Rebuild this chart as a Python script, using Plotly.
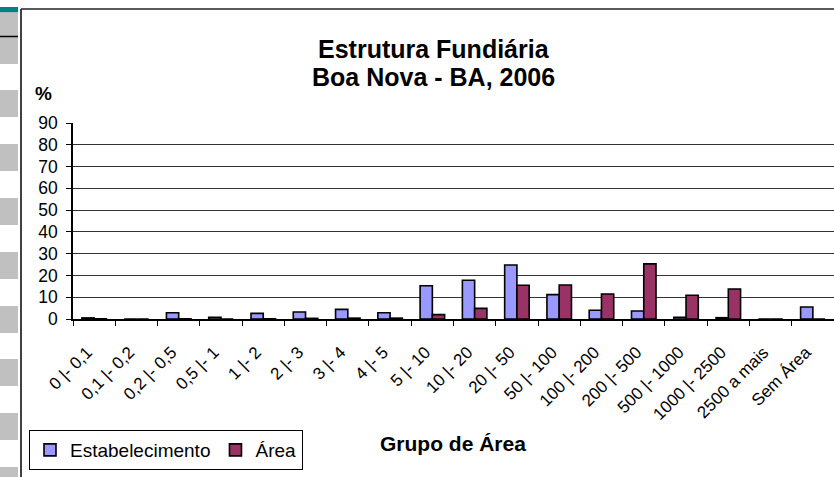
import plotly.graph_objects as go

categories = ["0 |- 0,1", "0,1 |- 0,2", "0,2 |- 0,5", "0,5 |- 1", "1 |- 2", "2 |- 3",
              "3 |- 4", "4 |- 5", "5 |- 10", "10 |- 20", "20 |- 50", "50 |- 100",
              "100 |- 200", "200 |- 500", "500 |- 1000", "1000 |- 2500", "2500 a mais", "Sem Área"]
estabelecimento = [0.5, 0.0, 2.9, 0.8, 2.6, 3.2, 4.4, 2.9, 15.3, 17.8, 24.8, 11.2,
                   4.0, 3.7, 0.8, 0.6, 0.0, 5.5]
area = [0.1, 0.0, 0.1, 0.0, 0.1, 0.3, 0.4, 0.4, 2.0, 4.9, 15.5, 15.6,
        11.5, 25.3, 10.9, 13.8, 0.0, 0.0]
y_ticks = [0, 10, 20, 30, 40, 50, 60, 70, 80, 90]

W, H = 834, 477
ML, MR, MT, MB = 73, 0, 123, 158
PW, PH = W - ML - MR, H - MT - MB
FONT = "Liberation Sans, Arial, sans-serif"


def px(x):
    return (x - ML) / PW


def py(y):
    return (H - MB - y) / PH


fig = go.Figure()
fig.add_trace(go.Bar(x=categories, y=estabelecimento, name="Estabelecimento",
                     marker=dict(color="#9999FF", line=dict(color="black", width=1.6))))
fig.add_trace(go.Bar(x=categories, y=area, name="Área",
                     marker=dict(color="#993366", line=dict(color="black", width=1.6))))

shapes = []
# frame
shapes.append(dict(type="line", xref="paper", yref="paper", x0=px(21), x1=px(21), y0=py(9), y1=py(H),
                   line=dict(color="black", width=1.5)))
shapes.append(dict(type="line", xref="paper", yref="paper", x0=px(21), x1=px(W), y0=py(9), y1=py(9),
                   line=dict(color="#222", width=1.5)))
# left strip decoration
shapes.append(dict(type="rect", xref="paper", yref="paper", x0=px(0), x1=px(18), y0=py(7), y1=py(12.5),
                   fillcolor="#008080", line=dict(width=0), layer="below"))
shapes.append(dict(type="rect", xref="paper", yref="paper", x0=px(0), x1=px(18), y0=py(12.5), y1=py(36),
                   fillcolor="#C0C0C0", line=dict(width=0), layer="below"))
shapes.append(dict(type="line", xref="paper", yref="paper", x0=px(0), x1=px(18), y0=py(36.5), y1=py(36.5),
                   line=dict(color="black", width=1.5)))
for top in [37, 90, 144, 198, 252, 306, 359, 413, 467]:
    shapes.append(dict(type="rect", xref="paper", yref="paper", x0=px(0), x1=px(18),
                       y0=py(top), y1=py(min(top + 27, H)),
                       fillcolor="#C0C0C0", line=dict(width=0), layer="below"))

annotations = [
    dict(text="<b>Estrutura Fundiária</b>", x=px(433.5), y=py(49), xref="paper", yref="paper",
         showarrow=False, xanchor="center", yanchor="middle",
         font=dict(family=FONT, size=25, color="black")),
    dict(text="<b>Boa Nova - BA, 2006</b>", x=px(433.5), y=py(77.5), xref="paper", yref="paper",
         showarrow=False, xanchor="center", yanchor="middle",
         font=dict(family=FONT, size=25, color="black")),
    dict(text="<b>%</b>", x=px(43), y=py(94), xref="paper", yref="paper",
         showarrow=False, xanchor="center", yanchor="middle",
         font=dict(family=FONT, size=19, color="black")),
    dict(text="<b>Grupo de Área</b>", x=px(453), y=py(443), xref="paper", yref="paper",
         showarrow=False, xanchor="center", yanchor="middle",
         font=dict(family=FONT, size=21, color="black")),
]

fig.update_layout(
    width=W, height=H,
    margin=dict(l=ML, r=MR, t=MT, b=MB, autoexpand=False),
    paper_bgcolor="white", plot_bgcolor="white",
    barmode="group", bargap=0.42, bargroupgap=0,
    font=dict(family=FONT, color="black"),
    showlegend=True,
    legend=dict(orientation="h", x=px(29), y=py(430), xanchor="left", yanchor="top",
                bordercolor="black", borderwidth=1, bgcolor="white",
                font=dict(size=19), itemwidth=30, tracegroupgap=0),
    shapes=shapes,
    annotations=annotations,
)
fig.update_xaxes(type="category", showgrid=False, showline=True, linecolor="black", linewidth=1.5,
                 ticks="outside", ticklen=5, tickcolor="black", tickson="boundaries",
                 tickangle=-45, tickfont=dict(size=17), range=[-0.5, 17.5],
                 ticklabelstandoff=15, ticklabelshift=-7)
fig.update_yaxes(range=[0, 90], tickvals=y_ticks, showgrid=True, gridcolor="#333", gridwidth=1,
                 showline=True, linecolor="black", linewidth=1.5, ticks="outside", ticklen=5,
                 tickcolor="black", tickfont=dict(size=17.5), zeroline=False,
                 ticklabelstandoff=5)

fig.write_html("out.html", config={"displayModeBar": False},
               post_script="document.body.style.margin='0px';")
